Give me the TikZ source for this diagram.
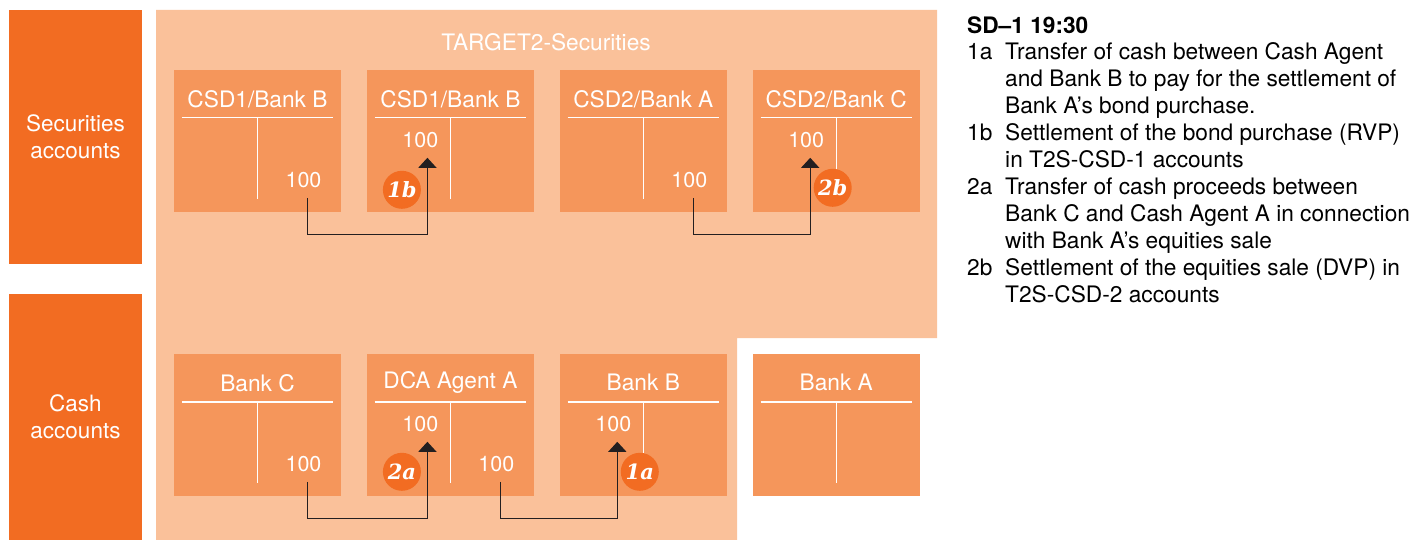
\documentclass[tikz,border=0pt]{standalone}
\usepackage{fontspec}
\setmainfont{TeX Gyre Heros}
\newfontfamily\badgefont{DejaVu Serif}
\usetikzlibrary{positioning, arrows.meta, calc}
\definecolor{t2sdark}{HTML}{F26C22}
\definecolor{t2sbox}{HTML}{F5965B}
\definecolor{t2slight}{HTML}{FAC19A}
\definecolor{flowline}{HTML}{231F20}
\tikzset{
  side/.style={
    fill=t2sdark,
    text=white,
    minimum width=133pt,
    align=center,
    inner sep=0pt,
    font=\fontsize{22.5}{27.5}\selectfont
  },
  acct/.style={
    fill=t2sbox,
    minimum width=167pt,
    minimum height=142pt,
    inner sep=0pt
  },
  ttl/.style={text=white, inner sep=0pt, font=\fontsize{22.7}{26}\selectfont},
  amt/.style={text=white, inner sep=0pt, font=\fontsize{21.5}{25}\selectfont},
  tline/.style={white, line width=1.4pt},
  flow/.style={
    draw=flowline,
    line width=1.3pt,
    -{Triangle[width=18pt,length=10pt]}
  },
  badge/.style={
    circle,
    fill=t2sdark,
    text=white,
    minimum size=38pt,
    inner sep=0pt,
    font=\badgefont\bfseries\itshape\fontsize{21}{25}\selectfont
  }
}

\begin{document}
\begin{tikzpicture}[x=1pt, y=-1pt]
    \useasboundingbox (0,0) rectangle (1426,540);

    % T2S area
    \fill[t2slight] (156,10) -- (937,10) -- (937,338) -- (737,338) -- (737,540) -- (156,540) -- cycle;
    \node[ttl] (t2s) at (546,42) {TARGET2-Securities};

    % row labels
    \node[side, minimum height=254pt] (secacc) at (75.5,137) {Securities\\accounts};
    \node[side, minimum height=246pt] (cashacc) at (75.5,417) {Cash\\accounts};

    % securities accounts
    \node[acct] (csda) at (257.5,141) {};
    \node[acct, right=25.5pt of csda] (csdb) {};
    \node[acct, right=25.5pt of csdb] (csdc) {};
    \node[acct, right=25.5pt of csdc] (csdd) {};

    % cash accounts
    \node[acct] (bankc) at (257.5,425) {};
    \node[acct, right=25.5pt of bankc] (dcaa) {};
    \node[acct, right=25.5pt of dcaa] (bankb) {};
    \node[acct, right=25.5pt of bankb] (banka) {};

    % T-accounts
    \foreach \n in {csda,csdb,csdc,csdd,bankc,dcaa,bankb,banka} {
        \draw[tline] ($(\n.north west)+(8,48)$) -- ($(\n.north east)+(-8,48)$);
        \draw[tline] ($(\n.north)+(0,48)$) -- ($(\n.south)+(0,-13)$);
    }

    \node[ttl] (csdat) at ($(csda.north)+(0,29)$) {CSD1/Bank B};
    \node[ttl] (csdbt) at ($(csdb.north)+(0,29)$) {CSD1/Bank B};
    \node[ttl] (csdct) at ($(csdc.north)+(0,29)$) {CSD2/Bank A};
    \node[ttl] (csddt) at ($(csdd.north)+(0,29)$) {CSD2/Bank C};
    \node[ttl] (bankct) at ($(bankc.north)+(0,29)$) {Bank C};
    \node[ttl] (dcaat) at ($(dcaa.north)+(0,29)$) {DCA Agent A};
    \node[ttl] (bankbt) at ($(bankb.north)+(0,29)$) {Bank B};
    \node[ttl] (bankat) at ($(banka.north)+(0,29)$) {Bank A};

    % amounts
    \node[amt] (csdar) at ($(csda.north)+(46,110)$) {100};
    \node[amt] (csdbl) at ($(csdb.north)+(-30,70)$) {100};
    \node[amt] (csdcr) at ($(csdc.north)+(46,110)$) {100};
    \node[amt] (csddl) at ($(csdd.north)+(-30,70)$) {100};
    \node[amt] (bankcr) at ($(bankc.north)+(46,110)$) {100};
    \node[amt] (dcaal) at ($(dcaa.north)+(-30,70)$) {100};
    \node[amt] (dcaar) at ($(dcaa.north)+(46,110)$) {100};
    \node[amt] (bankbl) at ($(bankb.north)+(-30,70)$) {100};

    % transfers
    \draw[flow] ([shift={(4,10)}]csdar.south) -- ++(0,37) -| ([shift={(7,10)}]csdbl.south);
    \draw[flow] ([shift={(4,10)}]csdcr.south) -- ++(0,37) -| ([shift={(4,10)}]csddl.south);
    \draw[flow] ([shift={(4,10)}]bankcr.south) -- ++(0,37) -| ([shift={(7,10)}]dcaal.south);
    \draw[flow] ([shift={(4,10)}]dcaar.south) -- ++(0,37) -| ([shift={(4,10)}]bankbl.south);

    % steps
    \node[badge] (s1b) at ($(csdb.north)+(-48.5,120)$) {1b};
    \node[badge] (s2b) at ($(csdd.north)+(-3.5,118)$) {2b};
    \node[badge] (s2a) at ($(dcaa.north)+(-48.5,118)$) {2a};
    \node[badge] (s1a) at ($(bankb.north)+(-3.5,118)$) {1a};

    % legend
    \node[anchor=north west, inner sep=0pt, font=\fontsize{22.7}{26.9}\selectfont] (legend) at (967,14) {%
        \begin{tabular}{@{}p{38pt}@{}l@{}}
        \multicolumn{2}{@{}l@{}}{\textbf{SD–1 19:30}}\\
        1a & Transfer of cash between Cash Agent\\
           & and Bank B to pay for the settlement of\\
           & Bank A’s bond purchase.\\
        1b & Settlement of the bond purchase (RVP)\\
           & in T2S-CSD-1 accounts\\
        2a & Transfer of cash proceeds between\\
           & Bank C and Cash Agent A in connection\\
           & with Bank A’s equities sale\\
        2b & Settlement of the equities sale (DVP) in\\
           & T2S-CSD-2 accounts
        \end{tabular}};
\end{tikzpicture}
\end{document}
